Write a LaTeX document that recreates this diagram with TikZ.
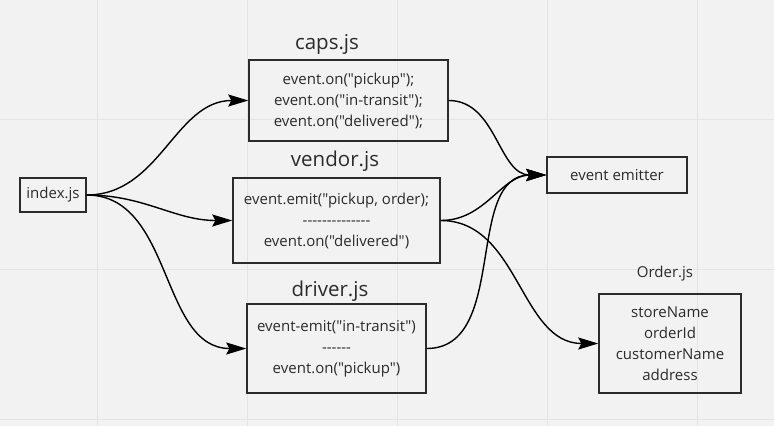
\documentclass[tikz,border=0pt]{standalone}
\usepackage{fontspec}
\setmainfont{Open Sans}[Ligatures=TeXOff]
\usetikzlibrary{arrows.meta}
\definecolor{bgcol}{HTML}{F2F2F2}
\definecolor{gridcol}{HTML}{E4E4E4}
\definecolor{inkcol}{HTML}{2B2B2B}

\begin{document}
\begin{tikzpicture}[x=1pt, y=-1pt, >={Stealth[length=20pt, width=12pt, inset=3pt]},
    box/.style={draw=inkcol, line width=1.4pt, text=inkcol, align=center, inner sep=0pt,
        font=\fontsize{15}{21}\selectfont},
    title/.style={text=inkcol, font=\fontsize{20.5}{24}\selectfont},
    link/.style={->, line width=1.4pt, out=0, in=180}]
    \fill[bgcol] (0,0) rectangle (774,426);
    \useasboundingbox (0,0) rectangle (774,426);
    \foreach \x in {97,247,...,697} \draw[gridcol, line width=1pt] (\x,0) -- (\x,426);
    \foreach \y in {119,269,419} \draw[gridcol, line width=1pt] (0,\y) -- (774,\y);

    \node[box, minimum width=66pt, minimum height=34pt] (index) at (53,195) {index.js};

    \node[title] (capstitle) at (327,44) {caps.js};
    \node[box, minimum width=199pt, minimum height=81pt] (caps) at (348.5,100.5)
        {event.on("pickup");\\event.on("in-transit");\\event.on("delivered");};

    \node[title] (vendortitle) at (335,161) {vendor.js};
    \node[box, minimum width=207pt, minimum height=85pt] (vendor) at (336.5,220.5)
        {event.emit("pickup, order);\\--------------\\event.on("delivered")};

    \node[title] (drivertitle) at (330,291) {driver.js};
    \node[box, minimum width=179pt, minimum height=89pt] (driver) at (336.5,348.5)
        {event-emit("in-transit")\\------\\event.on("pickup")};

    \node[box, minimum width=140pt, minimum height=36pt] (emitter) at (617,175) {event emitter};

    \node[text=inkcol, font=\fontsize{15}{17}\selectfont] (ordertitle) at (665,274) {Order.js};
    \node[box, minimum width=142pt, minimum height=99pt] (order) at (670,343.5)
        {storeName\\orderId\\customerName\\address};

    \draw[link] (index.east) to (caps.west);
    \draw[link] (index.east) to (vendor.west);
    \draw[link] (index.east) to (driver.west);
    \draw[link] (caps.east) to (emitter.west);
    \draw[link] (vendor.east) to (emitter.west);
    \draw[link] (driver.east) to (emitter.west);
    \draw[link] (vendor.east) to (order.west);
\end{tikzpicture}
\end{document}
